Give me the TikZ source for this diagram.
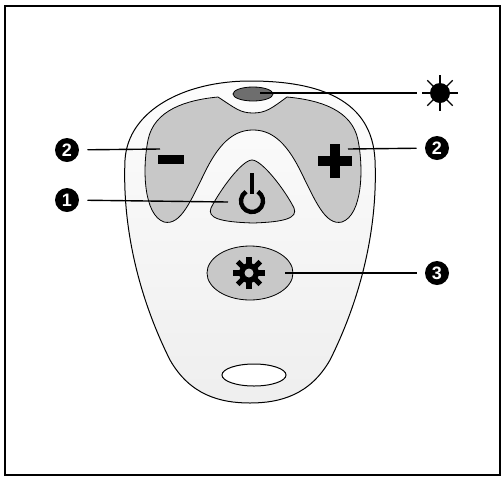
\documentclass[tikz,border=0pt]{standalone}
\usepackage{fontspec}
\setmainfont{Liberation Sans}
\usepackage{xcolor}
\usepackage{tikz}
\usetikzlibrary{positioning}
\definecolor{keygray}{HTML}{C8C8C8}
\definecolor{ledgray}{HTML}{6E6E6E}
\tikzset{
	numnode/.style={circle, fill=black, text=white, inner sep=0pt, minimum size=12pt, outer sep=4.25pt, font=\fontsize{9}{9}\selectfont\bfseries},
	sunnode/.style={circle, fill=black, inner sep=0pt, minimum size=10pt, outer sep=6.5pt},
	keyshape/.style={draw=black, line width=0.4pt, fill=keygray},
	leader/.style={draw, line width=0.7pt}
}

\begin{document}
\begin{tikzpicture}[x=0.5pt, y=-0.5pt]
		\useasboundingbox (0,0) rectangle (504,478);
		\draw[line width=1pt] (5,6) rectangle (500,475);
		
		%housing
		\draw[line width=0.5pt, top color=gray!2, bottom color=gray!13]
		(250,81) .. controls (320,81) and (372,100) .. (375,160)
		.. controls (378,230) and (360,300) .. (330,360)
		.. controls (310,395) and (280,403) .. (250,403)
		.. controls (220,403) and (190,395) .. (170,360)
		.. controls (140,300) and (122,230) .. (125,160)
		.. controls (128,110) and (185,81) .. (250,81) -- cycle;
		
		%minus/plus rocker
		\draw[keyshape]
		(218,97) .. controls (235,108) and (240,113) .. (253,113)
		.. controls (266,113) and (272,108) .. (287,97)
		.. controls (320,100) and (352,110) .. (358,140)
		.. controls (364,170) and (362,215) .. (342,222)
		.. controls (325,226) and (315,200) .. (300,170)
		.. controls (285,140) and (270,130) .. (253,130)
		.. controls (236,130) and (221,140) .. (206,170)
		.. controls (191,200) and (181,226) .. (164,222)
		.. controls (144,215) and (142,170) .. (148,140)
		.. controls (154,110) and (186,100) .. (218,97) -- cycle;
		\fill (158,155) rectangle (184,164);
		\fill (318,156) rectangle (352,166);
		\fill (330,144) rectangle (340,178);
		
		%power key
		\draw[keyshape]
		(252,160) .. controls (262,160) and (285,190) .. (294,208)
		.. controls (298,218) and (285,222) .. (253,223)
		.. controls (220,222) and (207,218) .. (211,208)
		.. controls (220,190) and (242,160) .. (252,160) -- cycle;
		\draw[line width=2.2pt] (252,201) ++(-58:11) arc[start angle=-58, end angle=238, radius=11];
		\draw[line width=2.2pt] (252,173) -- (252,194);
		
		%light key
		\draw[keyshape] (250,273) ellipse[x radius=43, y radius=27];
		\fill (249,273) circle[radius=10];
		\foreach \a in {0,45,...,315}
			\draw[line width=2.6pt] (249,273) ++(\a:8) -- ++(\a:8);
		\fill[keygray] (249,273) circle[radius=4.5];
		
		%led and key ring hole
		\draw[keyshape, fill=ledgray] (253,94) ellipse[x radius=20, y radius=7];
		\draw[fill=white, line width=0.5pt] (254,375) ellipse[x radius=32, y radius=11];
		
		%callouts
		\node[sunnode] at (440,93) (sun) {};
		\foreach \a in {0,45,...,315}
			\draw[line width=0.7pt] (sun.center) ++(\a:8) -- ++(\a:10);
		\node[numnode] at (67,150) (m2) {2};
		\node[numnode] at (67,200) (m1) {1};
		\node[numnode] at (437,148) (p2) {2};
		\node[numnode] at (437,273) (g3) {3};
		
		\coordinate (led) at (260,93);
		\coordinate (minus) at (160,149);
		\coordinate (pwr) at (228,202);
		\coordinate (plus) at (348,149);
		\coordinate (gear) at (285,273);
		
		%Lines
		\draw[leader] (led) -- (sun);
		\draw[leader] (m2) -- (minus);
		\draw[leader] (m1) -- (pwr);
		\draw[leader] (plus) -- (p2);
		\draw[leader] (gear) -- (g3);
	\end{tikzpicture}
\end{document}
